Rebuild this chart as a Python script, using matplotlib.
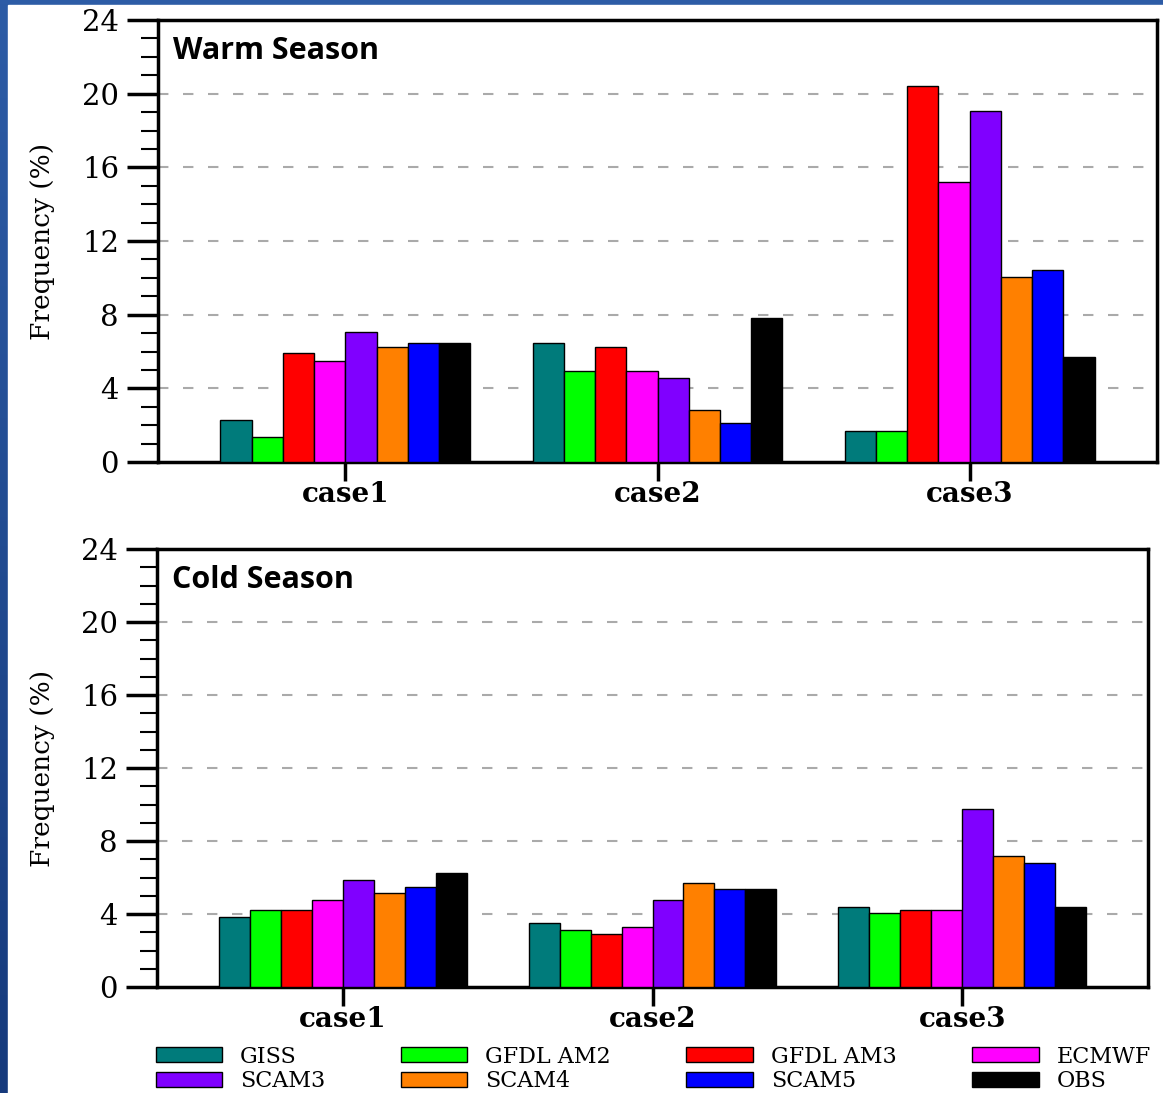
import numpy as np
import matplotlib.pyplot as plt
from matplotlib.colors import LinearSegmentedColormap

cases = ['case1', 'case2', 'case3']
models = ['GISS', 'GFDL AM2', 'GFDL AM3', 'ECMWF',
          'SCAM3', 'SCAM4', 'SCAM5', 'OBS']
colors = ['#007b7b', '#00ff00', '#ff0000', '#ff00ff',
          '#8000ff', '#ff8000', '#0000ff', '#000000']

# frequency (%) per model, one value per case
warm = {
    'GISS':     [2.3, 6.45, 1.7],
    'GFDL AM2': [1.35, 4.95, 1.7],
    'GFDL AM3': [5.9, 6.25, 20.4],
    'ECMWF':    [5.5, 4.95, 15.2],
    'SCAM3':    [7.05, 4.55, 19.05],
    'SCAM4':    [6.25, 2.85, 10.05],
    'SCAM5':    [6.45, 2.1, 10.45],
    'OBS':      [6.45, 7.8, 5.7],
}
cold = {
    'GISS':     [3.85, 3.5, 4.4],
    'GFDL AM2': [4.2, 3.1, 4.05],
    'GFDL AM3': [4.2, 2.9, 4.2],
    'ECMWF':    [4.75, 3.3, 4.2],
    'SCAM3':    [5.85, 4.75, 9.75],
    'SCAM4':    [5.15, 5.7, 7.2],
    'SCAM5':    [5.5, 5.35, 6.8],
    'OBS':      [6.25, 5.35, 4.4],
}

serif = 'DejaVu Serif'
W, H = 1163, 1093
fig = plt.figure(figsize=(W / 100, H / 100), dpi=100)

# blue slide backdrop with a white sheet on top
bg = fig.add_axes([0, 0, 1, 1], zorder=-10)
grad = np.linspace(0, 1, 256).reshape(-1, 1)
blues = LinearSegmentedColormap.from_list('slide', ['#2d5ca6', '#163a7c'])
bg.imshow(grad, aspect='auto', cmap=blues, extent=[0, 1, 0, 1])
bg.add_patch(plt.Rectangle((8 / W, 0), 1, 1 - 5 / H, color='white'))
bg.set_xlim(0, 1)
bg.set_ylim(0, 1)
bg.axis('off')


def draw_panel(ax, data, title):
    x = np.arange(len(cases))
    width = 0.1
    for i, m in enumerate(models):
        ax.bar(x - 0.35 + i * width, data[m], width, color=colors[i],
               edgecolor='black', linewidth=1, label=m, zorder=3)
    ax.set_xlim(-0.6, 2.6)
    ax.set_ylim(0, 24)
    ax.set_yticks(np.arange(0, 25, 4))
    ax.set_yticks(np.arange(0, 25, 1), minor=True)
    ax.set_xticks(x)
    ax.set_xticklabels(cases, fontfamily=serif, fontweight='bold', fontsize=20)
    ax.tick_params(axis='y', which='major', length=22, width=2.5,
                   labelsize=21, pad=6)
    ax.tick_params(axis='y', which='minor', length=12, width=1.5)
    ax.tick_params(axis='x', which='major', length=14, width=2.5, pad=0)
    for lab in ax.get_yticklabels():
        lab.set_fontfamily(serif)
        lab.set_fontweight('light')
    for y in range(4, 24, 4):
        ax.axhline(y, color='#aaaaaa', lw=1.5, ls=(0, (5, 7)), zorder=1)
    for s in ax.spines.values():
        s.set_linewidth(2.5)
    ax.set_ylabel('Frequency (%)', fontfamily=serif, fontsize=19)
    ax.yaxis.set_label_coords(-0.103, 0.5)
    ax.text(0.015, 0.93, title, transform=ax.transAxes, fontsize=22,
            fontweight='bold', fontfamily='Open Sans', va='center')


ax1 = fig.add_axes([158 / W, 1 - 462 / H, 999 / W, 442 / H])
draw_panel(ax1, warm, 'Warm Season')
ax2 = fig.add_axes([157 / W, 1 - 987 / H, 991 / W, 438 / H])
draw_panel(ax2, cold, 'Cold Season')

# legend fills row by row: first four models on top, the rest below
handles, labels = ax2.get_legend_handles_labels()
order = [0, 4, 1, 5, 2, 6, 3, 7]
fig.legend([handles[i] for i in order], [labels[i] for i in order],
           ncol=4, loc='upper left',
           bbox_to_anchor=(140 / W, 1 - 1030 / H), frameon=False,
           prop={'family': serif, 'size': 16},
           handlelength=3.0, handleheight=0.68, handletextpad=0.8,
           columnspacing=3.4, labelspacing=0.12, borderpad=0.2)

fig.savefig('out.png', dpi=100)
